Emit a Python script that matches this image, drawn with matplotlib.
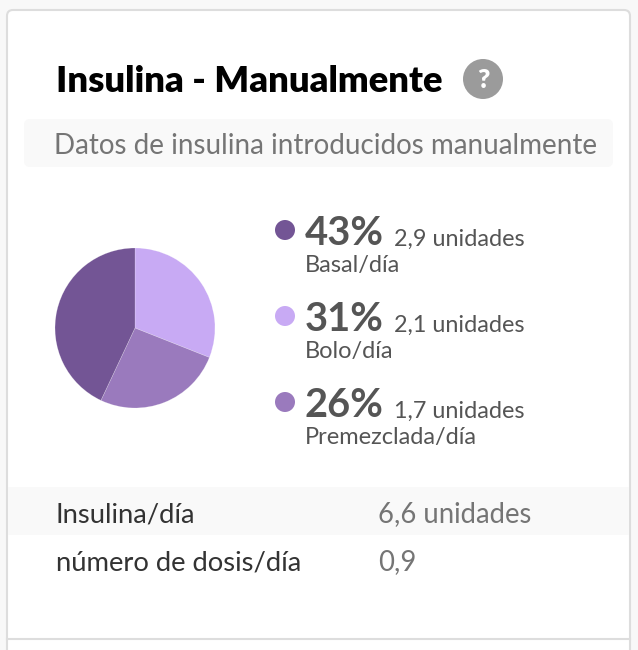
import matplotlib
matplotlib.use("Agg")
import matplotlib.pyplot as plt
from matplotlib.patches import FancyBboxPatch, Rectangle, Circle

# datos
categorias = ["Basal/día", "Bolo/día", "Premezclada/día"]
porcentajes = [43, 31, 26]
unidades = ["2,9 unidades", "2,1 unidades", "1,7 unidades"]
colores = ["#735595", "#c8aaf4", "#9a7abd"]
filas = ["Insulina/día", "número de dosis/día"]
valores_filas = ["6,6 unidades", "0,9"]

plt.rcParams['font.family'] = ['Lato', 'Open Sans', 'DejaVu Sans']

fig = plt.figure(figsize=(6.38, 6.5), dpi=100, facecolor='#f8f8f8')
# ejes de fondo en pixeles
bg = fig.add_axes([0, 0, 1, 1])
bg.set_xlim(0, 638)
bg.set_ylim(650, 0)
bg.axis('off')

# tarjeta
bg.add_patch(FancyBboxPatch((7, 10), 623, 700, boxstyle="round,pad=0,rounding_size=6",
                            fc='white', ec='#dddddd', lw=1.5))
bg.add_patch(FancyBboxPatch((24, 119), 589, 48, boxstyle="round,pad=0,rounding_size=6",
                            fc='#f9f9f9', ec='none'))
bg.add_patch(Rectangle((8, 487), 621, 48, fc='#f9f9f9', ec='none'))
bg.plot([7, 630], [638.5, 638.5], color='#dddddd', lw=1.5)

# titulo
bg.text(56.5, 92, "Insulina - Manualmente", fontsize=26.2, fontweight='heavy', color='black',
        ha='left', va='baseline')
bg.add_patch(Circle((483, 79), 20, fc='#9b9b9b', ec='none'))
bg.text(483, 88, "?", fontsize=19, fontweight='heavy', color='white', ha='center', va='baseline')
bg.text(53.5, 154, "Datos de insulina introducidos manualmente", fontsize=20, color='#757575',
        ha='left', va='baseline')

# leyenda
for i, cat in enumerate(categorias):
    y = 230 + i * 86
    bg.add_patch(Circle((285, y), 10, fc=colores[i], ec='none'))
    bg.text(304.5, y + 15, f"{porcentajes[i]}%", fontsize=28.7, fontweight='bold', color='#555555',
            ha='left', va='baseline')
    bg.text(525, y + 16, unidades[i], fontsize=16.8, color='#555555', ha='right', va='baseline')
    bg.text(304.5, y + 42, cat, fontsize=17, color='#555555', ha='left', va='baseline')

# filas de abajo
for i, fila in enumerate(filas):
    y = 522 + i * 48
    bg.text(56, y, fila, fontsize=19.7, color='#333333', ha='left', va='baseline')
    bg.text(378.5, y, valores_filas[i], fontsize=19.8, color='#757575', ha='left', va='baseline')

# pastel: de las 12 en sentido horario, Bolo, Premezclada, Basal
ax = fig.add_axes([55 / 638, 1 - 408 / 650, 160 / 638, 160 / 650])
orden = [1, 2, 0]
ax.pie([porcentajes[i] for i in orden], colors=[colores[i] for i in orden],
       startangle=90, counterclock=False, radius=1,
       wedgeprops={'linewidth': 0.4, 'edgecolor': '#ffffff55'})
ax.set_xlim(-1, 1)
ax.set_ylim(-1, 1)

fig.savefig("out.png", dpi=100, facecolor=fig.get_facecolor())
